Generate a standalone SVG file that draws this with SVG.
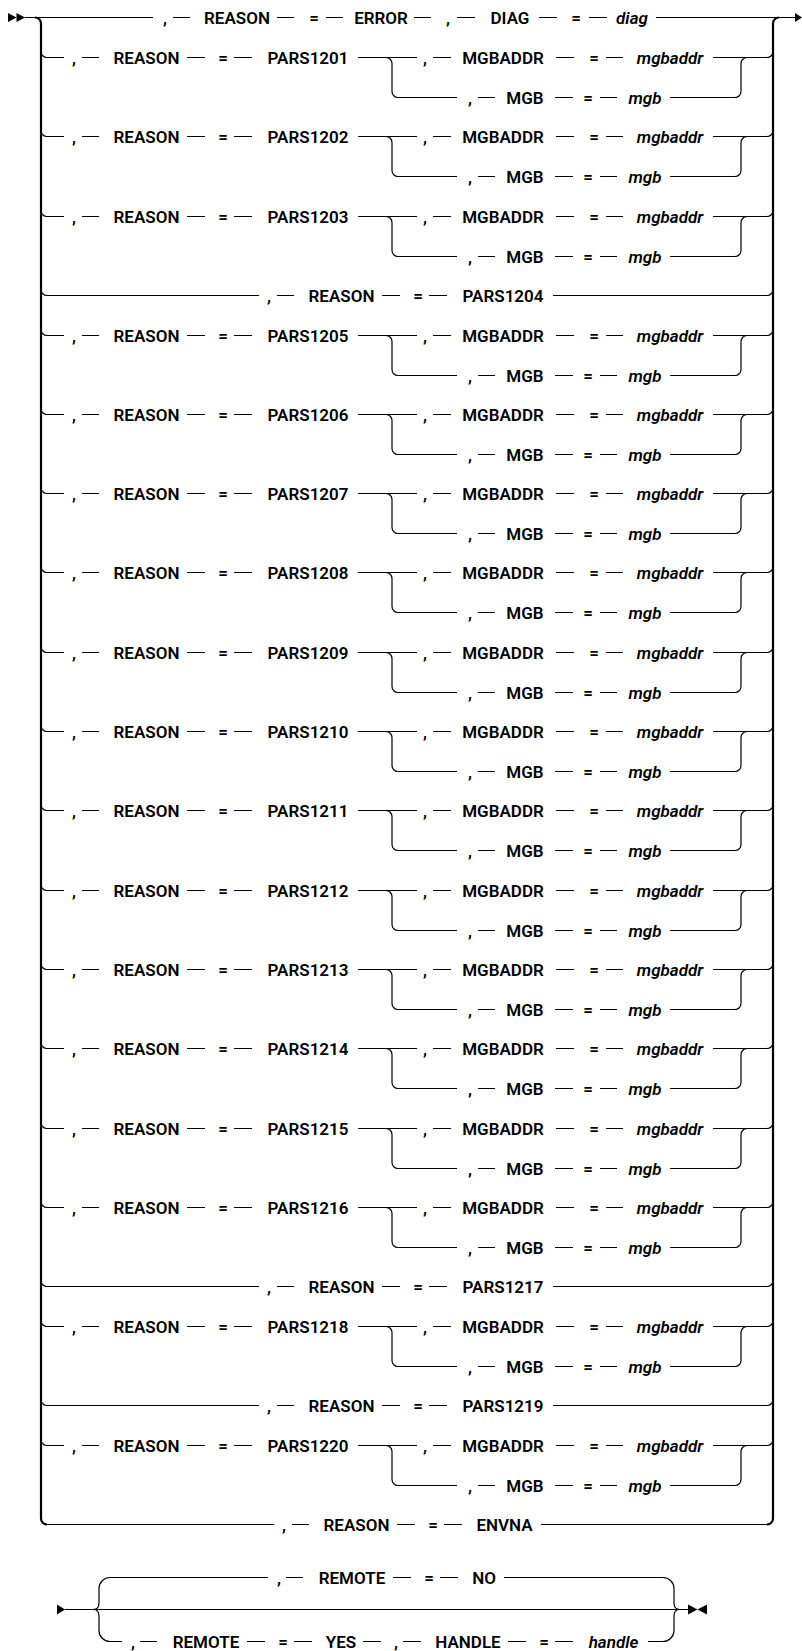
<svg xmlns="http://www.w3.org/2000/svg" width="802" height="1651" viewBox="0 0 802 1651">
<style>
.t{font-family:Roboto,"Liberation Sans",Arial,sans-serif;font-size:17px;font-weight:600;fill:#000;text-anchor:middle}
.i{font-style:italic}
.ln{fill:none;stroke:#000;stroke-width:1.2}
.vt{fill:none;stroke:#000;stroke-width:2.2}
.ah{fill:#000;stroke:none}
</style>
<defs>
<path id="pair" d="M41 -6A6 6 0 0 0 47 0H64M82 0H99M187 0H205M234 0H252M358 0H417M386 0A6 6 0 0 1 392 6V34A6 6 0 0 0 398 40H457M433 0H451M556 0H574M606 0H623M713 0H767A6 6 0 0 0 773 -6M478 40H495M555 40H573M600 40H617M670 40H735A6 6 0 0 0 741 34V6A6 6 0 0 1 747 0"/>
<path id="single" d="M41 -6A6 6 0 0 0 47 0H259M277 0H294M382 0H400M429 0H447M553 0H767A6 6 0 0 0 773 -6"/>
</defs>
<g id="connectors" class="ln">
<polygon class="ah" points="8,13 16.5,17.5 8,22"/>
<polygon class="ah" points="16.5,13 25,17.5 16.5,22"/>
<path d="M25 17.5H153M173 17.5H190M277 17.5H294M326 17.5H343M414 17.5H431M457 17.5H475M539 17.5H557M589 17.5H607M656 17.5H796"/>
<polygon class="ah" points="795,13 802,17.5 795,22"/>
<path class="vt" d="M35 17.5A6 6 0 0 1 41 23.5V1518.5A6 6 0 0 0 47 1524.5"/>
<path class="vt" d="M779 17.5A6 6 0 0 0 773 23.5V1518.5A6 6 0 0 1 767 1524.5"/>
<use href="#pair" transform="translate(0,57.5)"/>
<use href="#pair" transform="translate(0,136.5)"/>
<use href="#pair" transform="translate(0,216.5)"/>
<use href="#single" transform="translate(0,295.5)"/>
<use href="#pair" transform="translate(0,335.5)"/>
<use href="#pair" transform="translate(0,414.5)"/>
<use href="#pair" transform="translate(0,493.5)"/>
<use href="#pair" transform="translate(0,572.5)"/>
<use href="#pair" transform="translate(0,652.5)"/>
<use href="#pair" transform="translate(0,731.5)"/>
<use href="#pair" transform="translate(0,810.5)"/>
<use href="#pair" transform="translate(0,890.5)"/>
<use href="#pair" transform="translate(0,969.5)"/>
<use href="#pair" transform="translate(0,1048.5)"/>
<use href="#pair" transform="translate(0,1128.5)"/>
<use href="#pair" transform="translate(0,1207.5)"/>
<use href="#single" transform="translate(0,1286.5)"/>
<use href="#pair" transform="translate(0,1326.5)"/>
<use href="#single" transform="translate(0,1405.5)"/>
<use href="#pair" transform="translate(0,1445.5)"/>
<path d="M47 1524.5H274M292 1524.5H309M397 1524.5H415M444 1524.5H462M541 1524.5H767"/>
<polygon class="ah" points="57,1604.5 65,1609.5 57,1614.5"/>
<path d="M65 1609.5H690"/>
<path d="M110 1577.5A11 11 0 0 0 99 1588.5V1603Q99 1609.5 93 1609.5Q99 1609.5 99 1616V1630.5A11 11 0 0 0 110 1641.5"/>
<path d="M663 1577.5A11 11 0 0 1 674 1588.5V1603Q674 1609.5 680 1609.5Q674 1609.5 674 1616V1630.5A11 11 0 0 1 663 1641.5"/>
<path d="M110 1577.5H268M286 1577.5H303M393 1577.5H411M440 1577.5H458M504 1577.5H663"/>
<path d="M110 1641.5H122M140 1641.5H157M247 1641.5H265M294 1641.5H312M363 1641.5H381M403 1641.5H421M508 1641.5H526M555 1641.5H573M648 1641.5H663"/>
<polygon class="ah" points="688,1604.5 697.5,1609.5 688,1614.5"/>
<polygon class="ah" points="707,1604.5 697.5,1609.5 707,1614.5"/>
</g>
<g id="row-error" transform="translate(0,17.5)"><text class="t" x="165" y="6">,</text><text class="t" x="237" y="6">REASON</text><text class="t" x="314" y="6">=</text><text class="t" x="381" y="6">ERROR</text><text class="t" x="448" y="6">,</text><text class="t" x="510" y="6">DIAG</text><text class="t" x="576" y="6">=</text><text class="t i" x="632" y="6">diag</text></g>
<g id="row-pars1201" transform="translate(0,57.5)"><text class="t" x="74" y="6">,</text><text class="t" x="146.5" y="6">REASON</text><text class="t" x="223" y="6">=</text><text class="t" x="308" y="6">PARS1201</text><text class="t" x="425" y="6">,</text><text class="t" x="503" y="6">MGBADDR</text><text class="t" x="594" y="6">=</text><text class="t i" x="670" y="6">mgbaddr</text><text class="t" x="470" y="46">,</text><text class="t" x="525" y="46">MGB</text><text class="t" x="588" y="46">=</text><text class="t i" x="645" y="46">mgb</text></g>
<g id="row-pars1202" transform="translate(0,136.5)"><text class="t" x="74" y="6">,</text><text class="t" x="146.5" y="6">REASON</text><text class="t" x="223" y="6">=</text><text class="t" x="308" y="6">PARS1202</text><text class="t" x="425" y="6">,</text><text class="t" x="503" y="6">MGBADDR</text><text class="t" x="594" y="6">=</text><text class="t i" x="670" y="6">mgbaddr</text><text class="t" x="470" y="46">,</text><text class="t" x="525" y="46">MGB</text><text class="t" x="588" y="46">=</text><text class="t i" x="645" y="46">mgb</text></g>
<g id="row-pars1203" transform="translate(0,216.5)"><text class="t" x="74" y="6">,</text><text class="t" x="146.5" y="6">REASON</text><text class="t" x="223" y="6">=</text><text class="t" x="308" y="6">PARS1203</text><text class="t" x="425" y="6">,</text><text class="t" x="503" y="6">MGBADDR</text><text class="t" x="594" y="6">=</text><text class="t i" x="670" y="6">mgbaddr</text><text class="t" x="470" y="46">,</text><text class="t" x="525" y="46">MGB</text><text class="t" x="588" y="46">=</text><text class="t i" x="645" y="46">mgb</text></g>
<g id="row-pars1204" transform="translate(0,295.5)"><text class="t" x="269" y="6">,</text><text class="t" x="341.5" y="6">REASON</text><text class="t" x="418" y="6">=</text><text class="t" x="503" y="6">PARS1204</text></g>
<g id="row-pars1205" transform="translate(0,335.5)"><text class="t" x="74" y="6">,</text><text class="t" x="146.5" y="6">REASON</text><text class="t" x="223" y="6">=</text><text class="t" x="308" y="6">PARS1205</text><text class="t" x="425" y="6">,</text><text class="t" x="503" y="6">MGBADDR</text><text class="t" x="594" y="6">=</text><text class="t i" x="670" y="6">mgbaddr</text><text class="t" x="470" y="46">,</text><text class="t" x="525" y="46">MGB</text><text class="t" x="588" y="46">=</text><text class="t i" x="645" y="46">mgb</text></g>
<g id="row-pars1206" transform="translate(0,414.5)"><text class="t" x="74" y="6">,</text><text class="t" x="146.5" y="6">REASON</text><text class="t" x="223" y="6">=</text><text class="t" x="308" y="6">PARS1206</text><text class="t" x="425" y="6">,</text><text class="t" x="503" y="6">MGBADDR</text><text class="t" x="594" y="6">=</text><text class="t i" x="670" y="6">mgbaddr</text><text class="t" x="470" y="46">,</text><text class="t" x="525" y="46">MGB</text><text class="t" x="588" y="46">=</text><text class="t i" x="645" y="46">mgb</text></g>
<g id="row-pars1207" transform="translate(0,493.5)"><text class="t" x="74" y="6">,</text><text class="t" x="146.5" y="6">REASON</text><text class="t" x="223" y="6">=</text><text class="t" x="308" y="6">PARS1207</text><text class="t" x="425" y="6">,</text><text class="t" x="503" y="6">MGBADDR</text><text class="t" x="594" y="6">=</text><text class="t i" x="670" y="6">mgbaddr</text><text class="t" x="470" y="46">,</text><text class="t" x="525" y="46">MGB</text><text class="t" x="588" y="46">=</text><text class="t i" x="645" y="46">mgb</text></g>
<g id="row-pars1208" transform="translate(0,572.5)"><text class="t" x="74" y="6">,</text><text class="t" x="146.5" y="6">REASON</text><text class="t" x="223" y="6">=</text><text class="t" x="308" y="6">PARS1208</text><text class="t" x="425" y="6">,</text><text class="t" x="503" y="6">MGBADDR</text><text class="t" x="594" y="6">=</text><text class="t i" x="670" y="6">mgbaddr</text><text class="t" x="470" y="46">,</text><text class="t" x="525" y="46">MGB</text><text class="t" x="588" y="46">=</text><text class="t i" x="645" y="46">mgb</text></g>
<g id="row-pars1209" transform="translate(0,652.5)"><text class="t" x="74" y="6">,</text><text class="t" x="146.5" y="6">REASON</text><text class="t" x="223" y="6">=</text><text class="t" x="308" y="6">PARS1209</text><text class="t" x="425" y="6">,</text><text class="t" x="503" y="6">MGBADDR</text><text class="t" x="594" y="6">=</text><text class="t i" x="670" y="6">mgbaddr</text><text class="t" x="470" y="46">,</text><text class="t" x="525" y="46">MGB</text><text class="t" x="588" y="46">=</text><text class="t i" x="645" y="46">mgb</text></g>
<g id="row-pars1210" transform="translate(0,731.5)"><text class="t" x="74" y="6">,</text><text class="t" x="146.5" y="6">REASON</text><text class="t" x="223" y="6">=</text><text class="t" x="308" y="6">PARS1210</text><text class="t" x="425" y="6">,</text><text class="t" x="503" y="6">MGBADDR</text><text class="t" x="594" y="6">=</text><text class="t i" x="670" y="6">mgbaddr</text><text class="t" x="470" y="46">,</text><text class="t" x="525" y="46">MGB</text><text class="t" x="588" y="46">=</text><text class="t i" x="645" y="46">mgb</text></g>
<g id="row-pars1211" transform="translate(0,810.5)"><text class="t" x="74" y="6">,</text><text class="t" x="146.5" y="6">REASON</text><text class="t" x="223" y="6">=</text><text class="t" x="308" y="6">PARS1211</text><text class="t" x="425" y="6">,</text><text class="t" x="503" y="6">MGBADDR</text><text class="t" x="594" y="6">=</text><text class="t i" x="670" y="6">mgbaddr</text><text class="t" x="470" y="46">,</text><text class="t" x="525" y="46">MGB</text><text class="t" x="588" y="46">=</text><text class="t i" x="645" y="46">mgb</text></g>
<g id="row-pars1212" transform="translate(0,890.5)"><text class="t" x="74" y="6">,</text><text class="t" x="146.5" y="6">REASON</text><text class="t" x="223" y="6">=</text><text class="t" x="308" y="6">PARS1212</text><text class="t" x="425" y="6">,</text><text class="t" x="503" y="6">MGBADDR</text><text class="t" x="594" y="6">=</text><text class="t i" x="670" y="6">mgbaddr</text><text class="t" x="470" y="46">,</text><text class="t" x="525" y="46">MGB</text><text class="t" x="588" y="46">=</text><text class="t i" x="645" y="46">mgb</text></g>
<g id="row-pars1213" transform="translate(0,969.5)"><text class="t" x="74" y="6">,</text><text class="t" x="146.5" y="6">REASON</text><text class="t" x="223" y="6">=</text><text class="t" x="308" y="6">PARS1213</text><text class="t" x="425" y="6">,</text><text class="t" x="503" y="6">MGBADDR</text><text class="t" x="594" y="6">=</text><text class="t i" x="670" y="6">mgbaddr</text><text class="t" x="470" y="46">,</text><text class="t" x="525" y="46">MGB</text><text class="t" x="588" y="46">=</text><text class="t i" x="645" y="46">mgb</text></g>
<g id="row-pars1214" transform="translate(0,1048.5)"><text class="t" x="74" y="6">,</text><text class="t" x="146.5" y="6">REASON</text><text class="t" x="223" y="6">=</text><text class="t" x="308" y="6">PARS1214</text><text class="t" x="425" y="6">,</text><text class="t" x="503" y="6">MGBADDR</text><text class="t" x="594" y="6">=</text><text class="t i" x="670" y="6">mgbaddr</text><text class="t" x="470" y="46">,</text><text class="t" x="525" y="46">MGB</text><text class="t" x="588" y="46">=</text><text class="t i" x="645" y="46">mgb</text></g>
<g id="row-pars1215" transform="translate(0,1128.5)"><text class="t" x="74" y="6">,</text><text class="t" x="146.5" y="6">REASON</text><text class="t" x="223" y="6">=</text><text class="t" x="308" y="6">PARS1215</text><text class="t" x="425" y="6">,</text><text class="t" x="503" y="6">MGBADDR</text><text class="t" x="594" y="6">=</text><text class="t i" x="670" y="6">mgbaddr</text><text class="t" x="470" y="46">,</text><text class="t" x="525" y="46">MGB</text><text class="t" x="588" y="46">=</text><text class="t i" x="645" y="46">mgb</text></g>
<g id="row-pars1216" transform="translate(0,1207.5)"><text class="t" x="74" y="6">,</text><text class="t" x="146.5" y="6">REASON</text><text class="t" x="223" y="6">=</text><text class="t" x="308" y="6">PARS1216</text><text class="t" x="425" y="6">,</text><text class="t" x="503" y="6">MGBADDR</text><text class="t" x="594" y="6">=</text><text class="t i" x="670" y="6">mgbaddr</text><text class="t" x="470" y="46">,</text><text class="t" x="525" y="46">MGB</text><text class="t" x="588" y="46">=</text><text class="t i" x="645" y="46">mgb</text></g>
<g id="row-pars1217" transform="translate(0,1286.5)"><text class="t" x="269" y="6">,</text><text class="t" x="341.5" y="6">REASON</text><text class="t" x="418" y="6">=</text><text class="t" x="503" y="6">PARS1217</text></g>
<g id="row-pars1218" transform="translate(0,1326.5)"><text class="t" x="74" y="6">,</text><text class="t" x="146.5" y="6">REASON</text><text class="t" x="223" y="6">=</text><text class="t" x="308" y="6">PARS1218</text><text class="t" x="425" y="6">,</text><text class="t" x="503" y="6">MGBADDR</text><text class="t" x="594" y="6">=</text><text class="t i" x="670" y="6">mgbaddr</text><text class="t" x="470" y="46">,</text><text class="t" x="525" y="46">MGB</text><text class="t" x="588" y="46">=</text><text class="t i" x="645" y="46">mgb</text></g>
<g id="row-pars1219" transform="translate(0,1405.5)"><text class="t" x="269" y="6">,</text><text class="t" x="341.5" y="6">REASON</text><text class="t" x="418" y="6">=</text><text class="t" x="503" y="6">PARS1219</text></g>
<g id="row-pars1220" transform="translate(0,1445.5)"><text class="t" x="74" y="6">,</text><text class="t" x="146.5" y="6">REASON</text><text class="t" x="223" y="6">=</text><text class="t" x="308" y="6">PARS1220</text><text class="t" x="425" y="6">,</text><text class="t" x="503" y="6">MGBADDR</text><text class="t" x="594" y="6">=</text><text class="t i" x="670" y="6">mgbaddr</text><text class="t" x="470" y="46">,</text><text class="t" x="525" y="46">MGB</text><text class="t" x="588" y="46">=</text><text class="t i" x="645" y="46">mgb</text></g>
<g id="row-envna" transform="translate(0,1524.5)"><text class="t" x="284" y="6">,</text><text class="t" x="356.5" y="6">REASON</text><text class="t" x="433" y="6">=</text><text class="t" x="504.5" y="6">ENVNA</text></g>
<g id="row-remote-no" transform="translate(0,1577.5)"><text class="t" x="279" y="6">,</text><text class="t" x="352" y="6">REMOTE</text><text class="t" x="429" y="6">=</text><text class="t" x="484" y="6">NO</text></g>
<g id="row-remote-yes" transform="translate(0,1641.5)"><text class="t" x="133" y="6">,</text><text class="t" x="206" y="6">REMOTE</text><text class="t" x="283" y="6">=</text><text class="t" x="341" y="6">YES</text><text class="t" x="396" y="6">,</text><text class="t" x="468" y="6">HANDLE</text><text class="t" x="544" y="6">=</text><text class="t i" x="613.5" y="6">handle</text></g>
</svg>
